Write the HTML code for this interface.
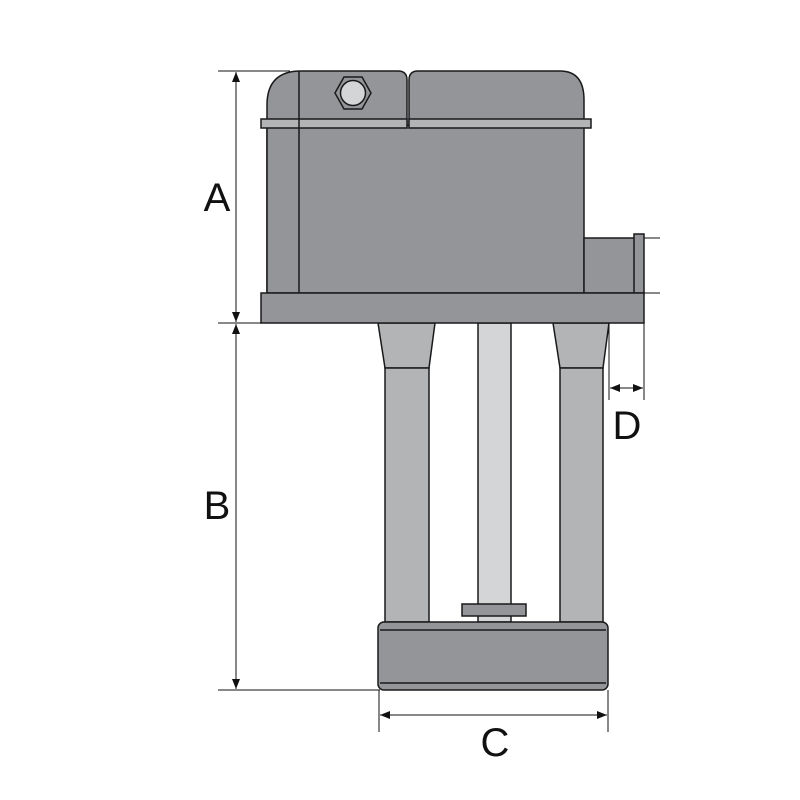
<!DOCTYPE html>
<html><head><style>body{margin:0;background:#fff}svg{display:block}</style></head><body>
<svg width="800" height="800" viewBox="0 0 800 800" xmlns="http://www.w3.org/2000/svg">
<defs>
<marker id="ar" markerWidth="10" markerHeight="8" refX="10" refY="4" orient="auto-start-reverse" markerUnits="userSpaceOnUse"><path d="M0,0 L10,4 L0,8 z" fill="#111"/></marker>
</defs>
<g stroke="#1a1a1a" stroke-width="1.5">
<path d="M378,323 L435,323 L429,368 L385,368 Z" fill="#b3b4b6"/>
<rect x="385" y="368" width="44" height="254" fill="#b3b4b6"/>
<path d="M553,323 L609,323 L603,368 L560,368 Z" fill="#b3b4b6"/>
<rect x="560" y="368" width="43" height="254" fill="#b3b4b6"/>
<rect x="478" y="323" width="33" height="299" fill="#d4d5d6"/>
<rect x="462" y="604" width="64" height="12" fill="#939598"/>
<rect x="378" y="622" width="230" height="68" rx="6" fill="#939598"/>
<line x1="380" y1="630" x2="606" y2="630"/>
<line x1="380" y1="683" x2="606" y2="683"/>
<path d="M267,293 L267,105 Q267,71 301,71 L398,71 Q407,71 407,80 L407,125 L267,125 Z" fill="#939598"/>
<path d="M409,125 L409,80 Q409,71 418,71 L560,71 Q584,71 584,100 L584,125 Z" fill="#939598"/>
<rect x="267" y="125" width="317" height="168" fill="#939598"/>
<rect x="261" y="119" width="146" height="9" fill="#b3b4b6"/>
<rect x="409" y="119" width="182" height="9" fill="#b3b4b6"/>
<line x1="299" y1="71" x2="299" y2="293"/>
<polygon points="335,93 344,77 362,77 371,93 362,109 344,109" fill="#939598"/>
<circle cx="353" cy="93" r="12.5" fill="#d4d5d6"/>
<rect x="584" y="238" width="54" height="55" fill="#939598"/>
<rect x="634" y="234" width="10" height="59" fill="#939598"/>
<rect x="261" y="293" width="383" height="30" fill="#939598"/>
</g>
<g stroke="#111" stroke-width="1" fill="none">
<line x1="218" y1="71" x2="290" y2="71"/>
<line x1="218" y1="323" x2="262" y2="323"/>
<line x1="218" y1="690" x2="380" y2="690"/>
<line x1="236" y1="72" x2="236" y2="322" marker-start="url(#ar)" marker-end="url(#ar)"/>
<line x1="236" y1="324" x2="236" y2="689" marker-start="url(#ar)" marker-end="url(#ar)"/>
<line x1="379" y1="690" x2="379" y2="732"/>
<line x1="608" y1="690" x2="608" y2="732"/>
<line x1="380" y1="715" x2="607" y2="715" marker-start="url(#ar)" marker-end="url(#ar)"/>
<line x1="609" y1="323" x2="609" y2="400"/>
<line x1="644" y1="323" x2="644" y2="400"/>
<line x1="610" y1="388" x2="643" y2="388" marker-start="url(#ar)" marker-end="url(#ar)"/>
<line x1="644" y1="238" x2="660" y2="238"/>
<line x1="644" y1="293" x2="660" y2="293"/>
</g>
<g font-family="Liberation Sans, sans-serif" font-size="40" fill="#111" text-anchor="middle">
<text x="217" y="211">A</text>
<text x="217" y="519">B</text>
<text x="495" y="756">C</text>
<text x="627" y="439">D</text>
</g>
</svg>
</body></html>
